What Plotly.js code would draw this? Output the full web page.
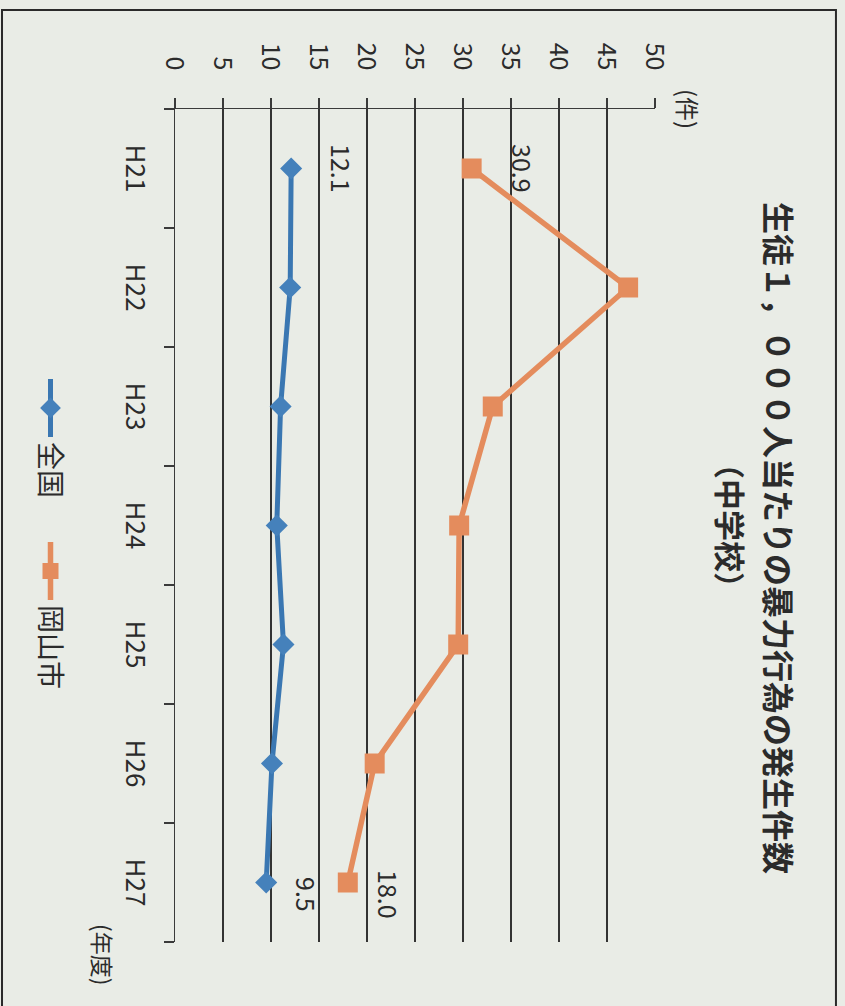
<!DOCTYPE html>
<html>
<head>
<meta charset="utf-8">
<script src="https://cdn.plot.ly/plotly-3.0.1.min.js"></script>
<style>
  html, body { margin:0; padding:0; width:845px; height:1006px; overflow:hidden; background:#e9ece6; }
  #wrap { position:absolute; left:0; top:0; width:1006px; height:845px; transform-origin:0 0; transform:translate(845px,0) rotate(90deg); }
  #chart { width:1006px; height:845px; }
</style>
</head>
<body>
<div id="wrap"><div id="chart"></div></div>
<script>
// ---- data ----
const categories = ['H21', 'H22', 'H23', 'H24', 'H25', 'H26', 'H27'];
const nationalName = '全国';
const nationalValues = [12.1, 12.0, 11.0, 10.6, 11.3, 10.1, 9.5];
const okayamaName = '岡山市';
const okayamaValues = [30.9, 47.2, 33.1, 29.6, 29.5, 20.8, 18.0];
const valueTicks = [0, 5, 10, 15, 20, 25, 30, 35, 40, 45, 50];
const labeledIndex = [0, 6];
const titleLine1 = '生徒１，０００人当たりの暴力行為の発生件数';
const titleLine2 = '（中学校）';
const yUnit = '(件)';
const xUnit = '(年度)';

// ---- styles ----
const FONT = '"Noto Sans CJK JP", "Noto Sans", sans-serif';
const BLUE = '#3a77b2';
const ORANGE = '#e48c5d';
const INK = '#2b2b2b';

const traces = [
  {
    type: 'scatter', mode: 'lines+markers', name: nationalName,
    x: categories, y: nationalValues,
    line: { color: BLUE, width: 5 },
    marker: { symbol: 'diamond', size: 17, color: '#4581bb' }
  },
  {
    type: 'scatter', mode: 'lines+markers', name: okayamaName,
    x: categories, y: okayamaValues,
    line: { color: ORANGE, width: 5.5 },
    marker: { symbol: 'square', size: 20, color: ORANGE }
  }
];

// data labels (first and last year)
const labelShift = { 0: { xs: 0, ys: 51 }, 6: { xs: 12, ys: 41 } };
const annotations = [];
[nationalValues, okayamaValues].forEach(vals => {
  labeledIndex.forEach(i => {
    annotations.push({
      x: categories[i], y: vals[i], xref: 'x', yref: 'y',
      text: vals[i].toFixed(1), showarrow: false,
      xshift: labelShift[i].xs, yshift: labelShift[i].ys,
      font: { family: FONT, size: 25, color: INK }
    });
  });
});
annotations.push({
  x: 0.5, y: 1.1604, xref: 'paper', yref: 'paper', text: titleLine2, showarrow: false,
  yanchor: 'middle', font: { family: FONT, size: 31, color: INK, weight: 'bold' }
});
annotations.push({
  x: 0, y: 1.069, xref: 'paper', yref: 'paper', text: yUnit, showarrow: false,
  xanchor: 'center', yanchor: 'middle', font: { family: FONT, size: 24, color: INK }
});
annotations.push({
  x: 1.0156, y: -0.15, xref: 'paper', yref: 'paper', text: xUnit, showarrow: false,
  xanchor: 'center', yanchor: 'middle', font: { family: FONT, size: 23, color: INK }
});

const layout = {
  width: 1006, height: 845,
  paper_bgcolor: '#e9ece6', plot_bgcolor: 'rgba(0,0,0,0)',
  margin: { l: 109, r: 64, t: 190, b: 175 },
  font: { family: FONT, color: INK },
  title: {
    text: titleLine1, x: 0.515, xref: 'paper', xanchor: 'center',
    y: 1 - 68 / 845, yref: 'container', yanchor: 'middle',
    font: { family: FONT, size: 32, color: INK, weight: 'bold' }
  },
  showlegend: true,
  legend: {
    orientation: 'h', x: 0.318, xanchor: 'left', y: -0.26, yanchor: 'middle',
    itemwidth: 58, entrywidth: 90, entrywidthmode: 'pixels',
    font: { family: FONT, size: 28, color: INK }, bgcolor: 'rgba(0,0,0,0)'
  },
  xaxis: {
    type: 'category', range: [-0.5, 6.5],
    showgrid: false, showline: true, linecolor: '#3a3a3a', linewidth: 1.5,
    ticks: 'outside', tickson: 'boundaries', ticklen: 10, tickcolor: '#3a3a3a', tickwidth: 1.5,
    ticklabelstandoff: 16,
    tickfont: { family: FONT, size: 26, color: INK }, zeroline: false, fixedrange: true
  },
  yaxis: {
    range: [0, 50], tickvals: valueTicks, ticktext: valueTicks.map(String),
    showgrid: true, gridcolor: '#333', gridwidth: 1.5,
    showline: true, linecolor: '#3a3a3a', linewidth: 1.5,
    ticks: 'outside', ticklen: 10, tickcolor: '#3a3a3a', tickwidth: 1.5,
    ticklabelstandoff: 22,
    tickfont: { family: FONT, size: 25, color: INK }, zeroline: false, fixedrange: true
  },
  shapes: [{
    type: 'rect', xref: 'paper', yref: 'paper',
    x0: -0.1188, x1: 1.0816, y0: -0.3604, y1: 1.377,
    line: { color: '#2a2a2a', width: 2 }, fillcolor: 'rgba(0,0,0,0)', layer: 'below'
  }],
  annotations: annotations
};

Plotly.newPlot('chart', traces, layout, { displayModeBar: false, staticPlot: true });
</script>
</body>
</html>
